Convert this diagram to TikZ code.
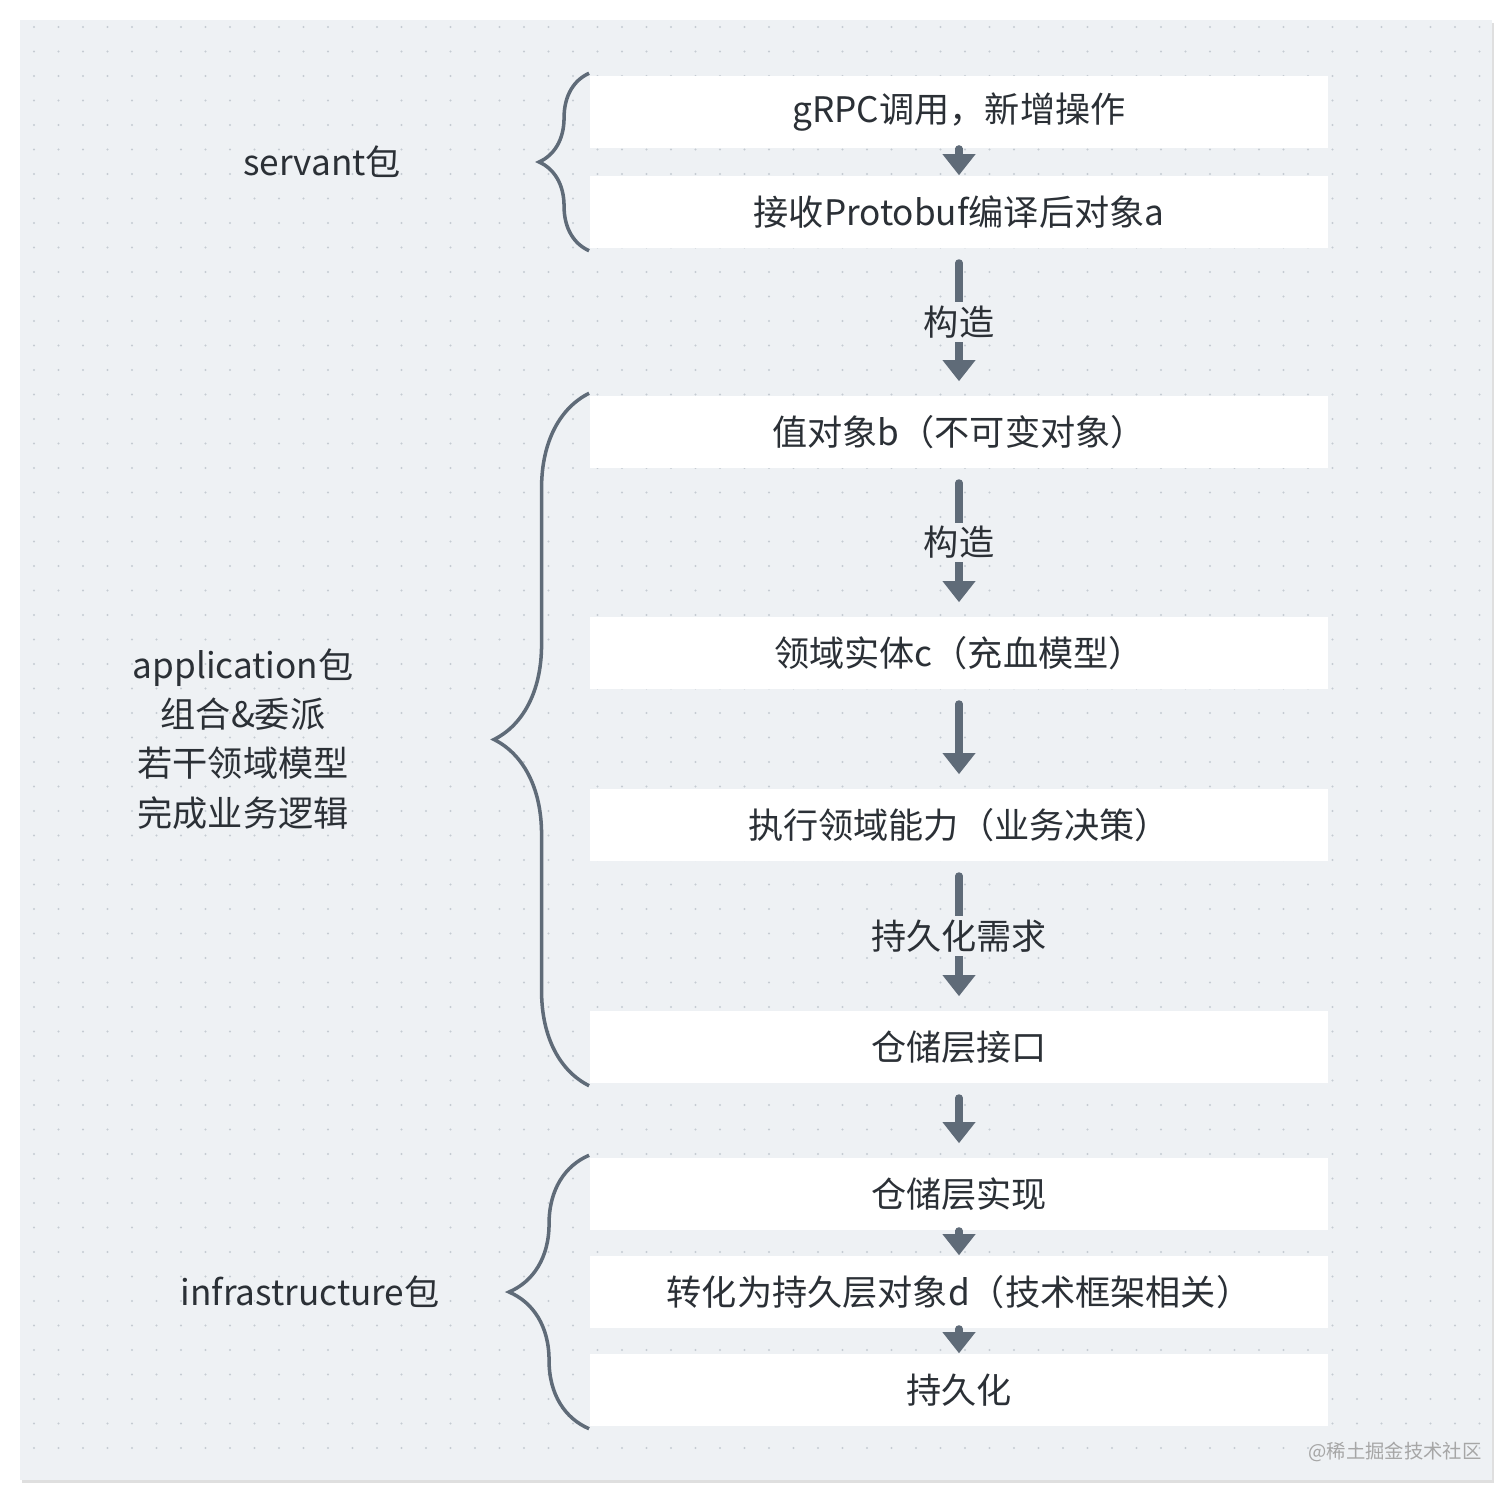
\documentclass[tikz,border=0pt]{standalone}
\usepackage{fontspec}
\setmainfont{Noto Sans CJK SC}
\usetikzlibrary{arrows.meta,decorations.pathreplacing}
\definecolor{panel}{HTML}{EEF1F4}
\definecolor{dotc}{HTML}{C5CBD2}
\definecolor{ink}{HTML}{2B3036}
\definecolor{slate}{HTML}{5F6B78}
\tikzset{
  stepbox/.style={fill=white, minimum width=7.38cm, minimum height=0.72cm, inner sep=0pt, text=ink, font=\fontsize{10}{12}\selectfont},
  flow/.style={slate, line width=2pt, line cap=round, -{Triangle[length=6pt,width=9pt]}},
  lbl/.style={fill=panel, text=ink, inner xsep=2pt, inner ysep=1pt, font=\fontsize{10}{12}\selectfont},
  pkg/.style={text=ink, align=center, font=\fontsize{10}{14}\selectfont},
  bracket/.style={slate, line width=1pt, decorate, decoration={brace, amplitude=#1}},
}
\begin{document}
\begin{tikzpicture}[x=0.01cm, y=-0.01cm]
    \useasboundingbox (0,0) rectangle (1512,1500);
    \fill [white] (0,0) rectangle (1512,1500);
    \fill [gray!25] (22,23) rectangle (1494,1483);
    \fill [panel] (20,20) rectangle (1492,1480);
    % dot grid
    \foreach \i in {0,...,59}
        \foreach \j in {0,...,58}
            \fill [dotc] (34+\i*24.5,27+\j*24.5) circle (1.1);

    % steps
    \node [stepbox] (grpc) at (959,112) {gRPC调用，新增操作};
    \node [stepbox] (recv) at (959,212) {接收Protobuf编译后对象a};
    \node [stepbox] (vobj) at (959,432) {值对象b（不可变对象）};
    \node [stepbox] (ent) at (959,653) {领域实体c（充血模型）};
    \node [stepbox] (exec) at (959,825) {执行领域能力（业务决策）};
    \node [stepbox] (repi) at (959,1047) {仓储层接口};
    \node [stepbox] (repm) at (959,1194) {仓储层实现};
    \node [stepbox] (conv) at (959,1292) {转化为持久层对象d（技术框架相关）};
    \node [stepbox] (save) at (959,1390) {持久化};

    % arrows
    \draw [flow] (grpc) -- (recv);
    \draw [flow, shorten <=4pt, shorten >=4pt] (recv) -- node [lbl] {构造} (vobj);
    \draw [flow, shorten <=4pt, shorten >=4pt] (vobj) -- node [lbl] {构造} (ent);
    \draw [flow, shorten <=4pt, shorten >=4pt] (ent) -- (exec);
    \draw [flow, shorten <=4pt, shorten >=4pt] (exec) -- node [lbl] {持久化需求} (repi);
    \draw [flow, shorten <=4pt, shorten >=4pt] (repi) -- (repm);
    \draw [flow] (repm) -- (conv);
    \draw [flow] (conv) -- (save);

    % packages
    \draw [bracket=0.5cm] ([yshift=-0.02cm]recv.south west) -- ([yshift=0.02cm]grpc.north west);
    \draw [bracket=0.95cm] ([yshift=-0.02cm]repi.south west) -- ([yshift=0.02cm]vobj.north west);
    \draw [bracket=0.8cm] ([yshift=-0.02cm]save.south west) -- ([yshift=0.02cm]repm.north west);
    \node [pkg] (servant) at (322,162) {servant包};
    \node [pkg] (app) at (243,739) {application包\\组合\&委派\\若干领域模型\\完成业务逻辑};
    \node [pkg] (infra) at (310,1292) {infrastructure包};

    \node [text=gray!70, font=\fontsize{5.5}{6}\selectfont] (mark) at (1395,1452) {@稀土掘金技术社区};
\end{tikzpicture}
\end{document}
